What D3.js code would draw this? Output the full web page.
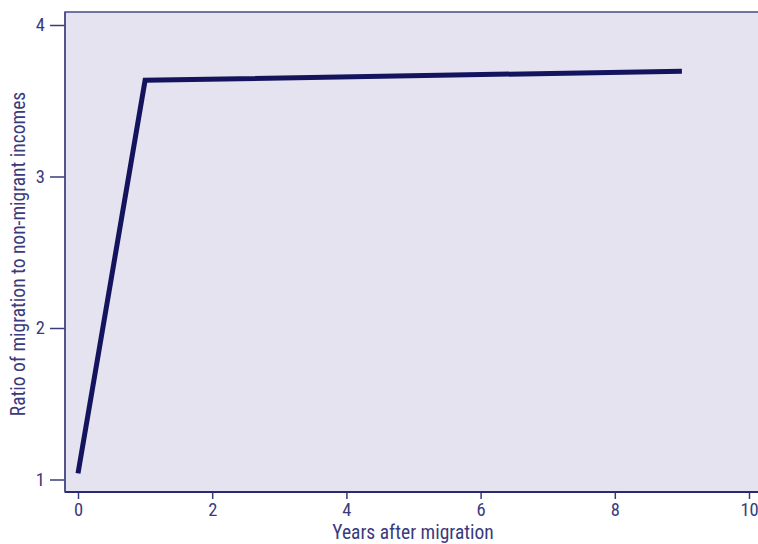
<!DOCTYPE html>
<html><head><meta charset="utf-8">
<script src="https://cdn.jsdelivr.net/npm/d3@7"></script>
<style>
html,body{margin:0;padding:0;background:#fff;}
svg{display:block;}
text{font-family:"Liberation Sans Narrow","Roboto Condensed","Roboto",sans-serif;fill:#3a3a7c;}
</style></head>
<body>
<svg id="c" width="758" height="544"></svg>
<script>
const years = [0, 1, 9];
const ratios = [1.04, 3.635, 3.695];
const xTicks = [0, 2, 4, 6, 8, 10];
const yTicks = [1, 2, 3, 4];

const svg = d3.select("#c");
const L = 65, R = 760, T = 12, B = 492;
const x = d3.scaleLinear().domain([0, 10]).range([78, 749]);
const y = d3.scaleLinear().domain([1, 4]).range([479.5, 25]);

svg.append("rect").attr("x", L).attr("y", T).attr("width", R - L).attr("height", B - T)
  .attr("fill", "#e5e3ef").attr("stroke", "#4a4a86").attr("stroke-width", 1.5);

const xa = svg.append("g").attr("transform", `translate(0,${B})`)
  .call(d3.axisBottom(x).tickValues(xTicks).tickSize(7).tickPadding(4).tickFormat(d3.format("d")));
const ya = svg.append("g").attr("transform", `translate(${L},0)`)
  .call(d3.axisLeft(y).tickValues(yTicks).tickSize(15).tickPadding(5).tickFormat(d3.format("d")));
[xa, ya].forEach(a => {
  a.select(".domain").remove();
  a.selectAll("line").attr("stroke", "#3a3a7c").attr("stroke-width", 1.5);
  a.selectAll("text").attr("font-size", 18.5).attr("fill", "#3a3a7c")
    .style("font-family", '"Liberation Sans Narrow","Roboto Condensed",Roboto,sans-serif');
});
svg.append("line").attr("x1", L).attr("x2", R).attr("y1", B).attr("y2", B).attr("stroke", "#2a2a70").attr("stroke-width", 2);
svg.append("line").attr("x1", L).attr("x2", L).attr("y1", T).attr("y2", B).attr("stroke", "#4a4a86").attr("stroke-width", 1.5);

const line = d3.line().x((d, i) => x(years[i])).y(d => y(d));
svg.append("path").datum(ratios).attr("d", line).attr("fill", "none")
  .attr("stroke", "#14145e").attr("stroke-width", 5).attr("stroke-linejoin", "miter");

svg.append("text").attr("x", 413).attr("y", 539).attr("text-anchor", "middle")
  .attr("font-size", 19.5).text("Years after migration");
svg.append("text").attr("transform", "translate(25,254) rotate(-90)").attr("text-anchor", "middle")
  .attr("font-size", 19.5).text("Ratio of migration to non-migrant incomes");
</script>
</body></html>
